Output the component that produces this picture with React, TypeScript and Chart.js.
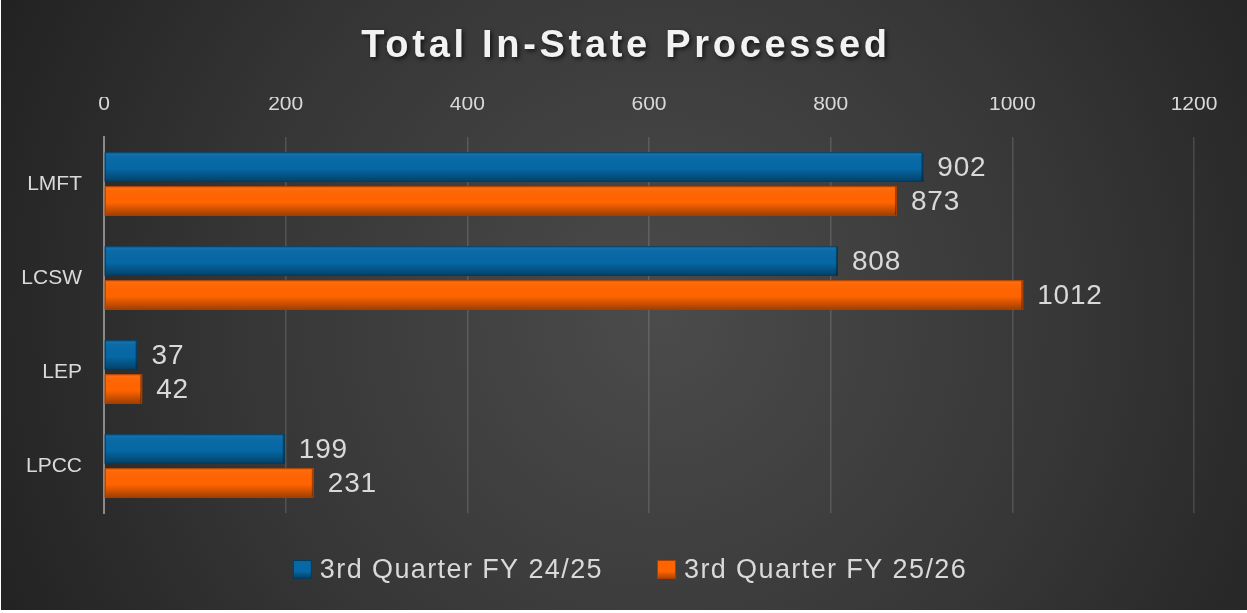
import React, { useEffect, useRef } from "react";
import { Chart, registerables } from "chart.js";

Chart.register(...registerables);

const chartTitle = "Total In-State Processed";
const categories = ["LMFT", "LCSW", "LEP", "LPCC"];
const seriesNames = ["3rd Quarter FY 24/25", "3rd Quarter FY 25/26"];
const q3FY2425 = [902, 808, 37, 199];
const q3FY2526 = [873, 1012, 42, 231];
const axisMin = 0;
const axisMax = 1200;
const axisStep = 200;

const seriesColors = ["#0668a5", "#ff6400"];
const seriesDark = ["#053a5c", "#a83f00"];
const textColor = "#d9d9d9";
const FONT = "'Liberation Sans', Arial, sans-serif";

const backgroundPlugin = {
  id: "bgPlugin",
  beforeDraw(chart: any) {
    const { ctx, width, height } = chart;
    ctx.save();
    ctx.fillStyle = "#ffffff";
    ctx.fillRect(0, 0, width, height);
    const g = ctx.createRadialGradient(660, 320, 0, 660, 320, 760);
    g.addColorStop(0, "#4b4b4b");
    g.addColorStop(0.55, "#363636");
    g.addColorStop(1, "#202020");
    ctx.fillStyle = g;
    ctx.fillRect(1, 0, width - 1, height - 3);
    ctx.restore();
  },
};

const titlePlugin = {
  id: "titlePlugin",
  afterDraw(chart: any) {
    const { ctx } = chart;
    ctx.save();
    ctx.font = `bold 38px ${FONT}`;
    (ctx as any).letterSpacing = "3.7px";
    ctx.textAlign = "center";
    ctx.textBaseline = "middle";
    ctx.shadowColor = "rgba(0,0,0,0.65)";
    ctx.shadowBlur = 4;
    ctx.shadowOffsetX = 2;
    ctx.shadowOffsetY = 2;
    ctx.fillStyle = "#f2f2f2";
    ctx.fillText(chartTitle, 626, 47);
    ctx.restore();
  },
};

const barShadePlugin = {
  id: "barShade",
  afterDatasetsDraw(chart: any) {
    const { ctx } = chart;
    chart.data.datasets.forEach((ds: any, di: number) => {
      const meta = chart.getDatasetMeta(di);
      meta.data.forEach((el: any) => {
        const { x, y, base, height } = el.getProps(["x", "y", "base", "height"], true);
        const top = y - height / 2;
        const left = Math.min(base, x);
        const w = Math.abs(x - base);
        ctx.save();
        const g = ctx.createLinearGradient(0, top, 0, top + height);
        g.addColorStop(0, "rgba(255,255,255,0.10)");
        g.addColorStop(0.12, "rgba(255,255,255,0.03)");
        g.addColorStop(0.55, "rgba(0,0,0,0)");
        g.addColorStop(1, "rgba(0,0,0,0.38)");
        ctx.fillStyle = g;
        ctx.fillRect(left, top, w, height);
        ctx.fillStyle = "rgba(0,0,0,0.35)";
        ctx.fillRect(left + w - 2, top, 2, height);
        ctx.strokeStyle = seriesDark[di];
        ctx.lineWidth = 1;
        ctx.strokeRect(left + 0.5, top + 0.5, w - 1, height - 1);
        ctx.restore();
      });
    });
  },
};

const dataLabelPlugin = {
  id: "dataLabels",
  afterDatasetsDraw(chart: any) {
    const { ctx } = chart;
    ctx.save();
    ctx.font = `28px ${FONT}`;
    (ctx as any).letterSpacing = "0.8px";
    ctx.fillStyle = textColor;
    ctx.textAlign = "left";
    ctx.textBaseline = "middle";
    chart.data.datasets.forEach((ds: any, di: number) => {
      const meta = chart.getDatasetMeta(di);
      meta.data.forEach((el: any, i: number) => {
        const { x, y } = el.getProps(["x", "y"], true);
        ctx.fillText(String(ds.data[i]), x + 14, y + 1);
      });
    });
    ctx.restore();
  },
};

const legendPlugin = {
  id: "customLegend",
  afterDraw(chart: any) {
    const { ctx } = chart;
    ctx.save();
    ctx.font = `27px ${FONT}`;
    (ctx as any).letterSpacing = "1.4px";
    const box = 19;
    const boxGap = 8;
    const itemGap = 54;
    const items = chart.data.datasets.map((ds: any) => ({
      label: ds.label,
      w: ctx.measureText(ds.label).width,
    }));
    const total =
      items.reduce((s: number, it: any) => s + box + boxGap + it.w, 0) +
      itemGap * (items.length - 1);
    let x = 630 - total / 2;
    const cy = 569.5;
    items.forEach((it: any, i: number) => {
      const g = ctx.createLinearGradient(0, cy - box / 2, 0, cy + box / 2);
      g.addColorStop(0, seriesColors[i]);
      g.addColorStop(0.6, seriesColors[i]);
      g.addColorStop(1, seriesDark[i]);
      ctx.fillStyle = g;
      ctx.fillRect(x, cy - box / 2, box, box);
      ctx.strokeStyle = seriesDark[i];
      ctx.lineWidth = 1;
      ctx.strokeRect(x + 0.5, cy - box / 2 + 0.5, box - 1, box - 1);
      ctx.fillStyle = textColor;
      ctx.textAlign = "left";
      ctx.textBaseline = "middle";
      ctx.fillText(it.label, x + box + boxGap, cy + 1);
      x += box + boxGap + it.w + itemGap;
    });
    ctx.restore();
  },
};

export default function App() {
  const canvasRef = useRef<HTMLCanvasElement | null>(null);

  useEffect(() => {
    document.body.style.margin = "0";
    const canvas = canvasRef.current;
    if (!canvas) return;
    const chart = new Chart(canvas, {
      type: "bar",
      data: {
        labels: categories,
        datasets: [
          {
            label: seriesNames[0],
            data: q3FY2425,
            backgroundColor: seriesColors[0],
            categoryPercentage: 0.723,
            barPercentage: 0.868,
          },
          {
            label: seriesNames[1],
            data: q3FY2526,
            backgroundColor: seriesColors[1],
            categoryPercentage: 0.723,
            barPercentage: 0.868,
          },
        ],
      },
      options: {
        indexAxis: "y",
        animation: false,
        responsive: false,
        maintainAspectRatio: false,
        devicePixelRatio: 1,
        layout: { padding: { left: 0, right: 53, top: 97, bottom: 100 } },
        plugins: {
          legend: { display: false },
          title: { display: false },
          tooltip: { enabled: false },
        },
        scales: {
          x: {
            position: "top",
            min: axisMin,
            max: axisMax,
            ticks: {
              stepSize: axisStep,
              color: textColor,
              font: { family: FONT, size: 21 },
              padding: 20,
              callback: (v: any) => String(v),
            },
            grid: {
              color: "rgba(255,255,255,0.14)",
              lineWidth: 1.5,
              drawTicks: false,
            },
            border: { display: false },
            afterFit(scale: any) {
              scale.height = 40;
            },
          },
          y: {
            ticks: {
              color: textColor,
              font: { family: FONT, size: 21 },
              padding: 22,
            },
            grid: { display: false, drawTicks: false },
            border: { display: true, color: "#8a8a8a", width: 2 },
            afterFit(scale: any) {
              scale.width = 104;
            },
          },
        },
      } as any,
      plugins: [backgroundPlugin, barShadePlugin, dataLabelPlugin, titlePlugin, legendPlugin],
    });
    return () => chart.destroy();
  }, []);

  return (
    <div style={{ width: 1247, height: 613 }}>
      <canvas ref={canvasRef} width={1247} height={613} style={{ display: "block" }} />
    </div>
  );
}
